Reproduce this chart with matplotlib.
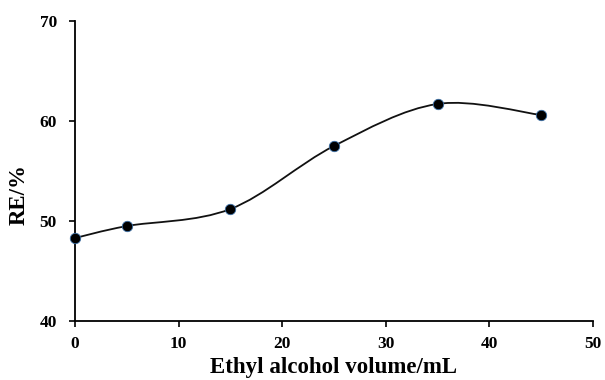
import numpy as np
import matplotlib
matplotlib.use('Agg')
import matplotlib.pyplot as plt
from matplotlib.path import Path
from matplotlib.patches import PathPatch

# Data
volume = [0, 5, 15, 25, 35, 45]
re_pct = [48.3, 49.5, 51.2, 57.5, 61.7, 60.6]

x_ticks = [0, 10, 20, 30, 40, 50]
y_ticks = [40, 50, 60, 70]

plt.rcParams['font.family'] = ['Liberation Serif', 'DejaVu Serif']
plt.rcParams['font.weight'] = 'bold'

fig = plt.figure(figsize=(6.05, 3.8), dpi=100)
ax = fig.add_axes([0.124, 0.155, 0.856, 0.79])

# Excel-style smoothed line: Catmull-Rom segments as cubic Bezier curves
pts = np.column_stack([volume, re_pct]).astype(float)
padded = np.vstack([pts[0], pts, pts[-1]])
verts = [tuple(pts[0])]
codes = [Path.MOVETO]
for i in range(len(pts) - 1):
    p0, p1, p2, p3 = padded[i], padded[i + 1], padded[i + 2], padded[i + 3]
    c1 = p1 + (p2 - p0) / 6.0
    c2 = p2 - (p3 - p1) / 6.0
    verts += [tuple(c1), tuple(c2), tuple(p2)]
    codes += [Path.CURVE4] * 3
ax.add_patch(PathPatch(Path(verts, codes), facecolor='none',
                       edgecolor='#111111', lw=1.3, zorder=2))

ax.plot(volume, re_pct, 'o', color='black', markersize=7.5,
        markeredgecolor='#3a6ea5', markeredgewidth=0.6, zorder=3,
        clip_on=False)

ax.set_xlim(0, 50)
ax.set_ylim(40, 70)
ax.set_xticks(x_ticks)
ax.set_yticks(y_ticks)
ax.tick_params(direction='out', length=4, width=1.2, labelsize=12.5)
ax.tick_params(axis='x', pad=7)
ax.tick_params(axis='y', pad=9)
for s in ['top', 'right']:
    ax.spines[s].set_visible(False)
for s in ['left', 'bottom']:
    ax.spines[s].set_linewidth(1.3)

ax.set_xlabel('Ethyl alcohol volume/mL', fontsize=16.5, fontweight='bold', labelpad=3)
ax.set_ylabel('RE/%', fontsize=16.5, fontweight='bold')
ax.yaxis.set_label_coords(-0.088, 0.42)

plt.savefig('out.png', dpi=100)
plt.close()
